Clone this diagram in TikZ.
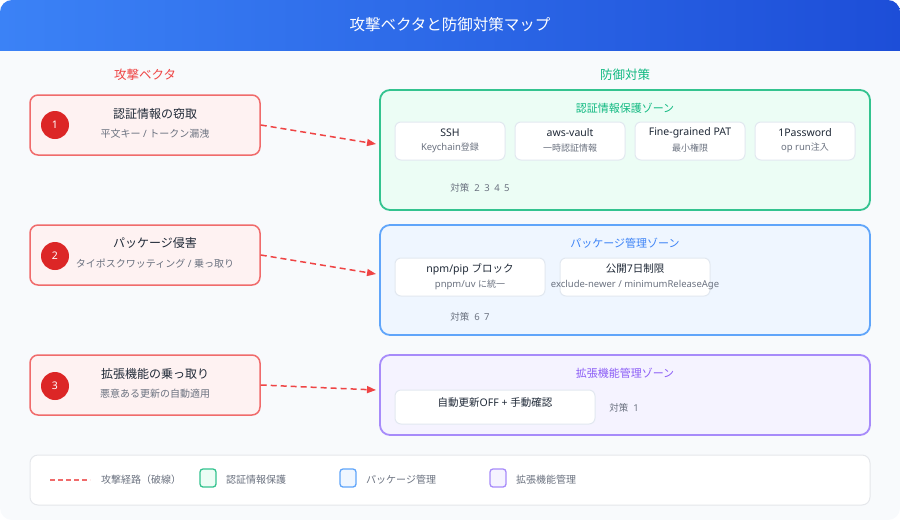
\documentclass[tikz,border=0pt]{standalone}
\usepackage{fontspec}
\setmainfont{Noto Sans CJK JP}
\newfontfamily\lat{Noto Sans}
\newcommand\latsub{\lat\fontsize{9.5}{11}\selectfont}
\usetikzlibrary{arrows.meta}
\definecolor{bgc}{HTML}{F8FAFC}
\definecolor{hdrL}{HTML}{3B82F6}
\definecolor{hdrR}{HTML}{1D4ED8}
\definecolor{atkred}{HTML}{EF4444}
\definecolor{atkstroke}{HTML}{F06B6B}
\definecolor{atkfill}{HTML}{FEF2F2}
\definecolor{numred}{HTML}{DC2626}
\definecolor{darktxt}{HTML}{1F2937}
\definecolor{subtxt}{HTML}{6B7280}
\definecolor{grnstroke}{HTML}{34C38F}
\definecolor{grnfill}{HTML}{ECFDF5}
\definecolor{grntxt}{HTML}{10B981}
\definecolor{blustroke}{HTML}{60A5FA}
\definecolor{blufill}{HTML}{EFF6FF}
\definecolor{blutxt}{HTML}{3B82F6}
\definecolor{purstroke}{HTML}{A78BFA}
\definecolor{purfill}{HTML}{F5F3FF}
\definecolor{purtxt}{HTML}{8B5CF6}
\definecolor{innerstroke}{HTML}{E2E8F0}
\definecolor{legstroke}{HTML}{E5E7EB}
\begin{document}
\begin{tikzpicture}[x=1pt,y=-1pt,
  txt/.style={inner sep=0pt, anchor=center},
  attackbox/.style={draw=atkstroke, fill=atkfill, line width=1.5pt, rounded corners=8pt, minimum width=230pt, minimum height=60pt, inner sep=0pt},
  numcircle/.style={circle, fill=numred, minimum size=28pt, inner sep=0pt, text=white, font=\lat\fontsize{10.5}{12}\selectfont},
  atktitle/.style={txt, text=darktxt, font=\fontsize{12}{14}\selectfont},
  atksub/.style={txt, text=subtxt, font=\fontsize{10}{12}\selectfont},
  zonebox/.style={line width=1.8pt, rounded corners=10pt, minimum width=490pt, inner sep=0pt},
  zonetitle/.style={txt, font=\fontsize{11}{13}\selectfont},
  innerbox/.style={draw=innerstroke, fill=white, line width=1pt, rounded corners=6pt, inner sep=0pt},
  inmain/.style={txt, text=darktxt, font=\fontsize{10.5}{12}\selectfont},
  insub/.style={txt, text=subtxt, font=\fontsize{9}{11}\selectfont},
  measure/.style={txt, text=subtxt, font=\fontsize{9.5}{11}\selectfont},
  attackline/.style={draw=atkred, line width=1.5pt, dash pattern=on 6pt off 4pt, -{Triangle[length=9pt,width=7pt]}},
  swatch/.style={line width=1.3pt, rounded corners=3pt, minimum width=16pt, minimum height=18pt, inner sep=0pt},
  legtxt/.style={inner sep=0pt, anchor=west, text=subtxt, font=\fontsize{10}{12}\selectfont}
]
\useasboundingbox (0,0) rectangle (900,520);
\begin{scope}
  \clip[rounded corners=12pt] (0,0) rectangle (900,520);
  \fill[bgc] (0,0) rectangle (900,520);
  \shade[left color=hdrL, right color=hdrR] (0,0) rectangle (900,50);
\end{scope}
\node[txt, text=white, font=\fontsize{15.5}{18}\selectfont] (title) at (450,25) {攻撃ベクタと防御対策マップ};

\node[txt, text=atkred, font=\fontsize{12.5}{15}\selectfont] (hatk) at (145,75) {攻撃ベクタ};
\node[txt, text=grntxt, font=\fontsize{12.5}{15}\selectfont] (hdef) at (625,75) {防御対策};

% attack boxes
\node[attackbox] (a1) at (145,125) {};
\node[numcircle] (n1) at (55,125) {1};
\node[atktitle] (a1t) at (155,114) {認証情報の窃取};
\node[atksub] (a1s) at (155,134) {平文キー{\lat\ /\ }トークン漏洩};

\node[attackbox] (a2) at (145,255) {};
\node[numcircle] (n2) at (55,256) {2};
\node[atktitle] (a2t) at (155,243) {パッケージ侵害};
\node[atksub] (a2s) at (155,264) {タイポスクワッティング{\lat\ /\ }乗っ取り};

\node[attackbox] (a3) at (145,385) {};
\node[numcircle] (n3) at (55,386) {3};
\node[atktitle] (a3t) at (155,374) {拡張機能の乗っ取り};
\node[atksub] (a3s) at (155,394) {悪意ある更新の自動適用};

% zone 1
\node[zonebox, draw=grnstroke, fill=grnfill, minimum height=120pt] (z1) at (625,150) {};
\node[zonetitle, text=grntxt] (z1t) at (625,108) {認証情報保護ゾーン};
\node[innerbox, minimum width=110pt, minimum height=38pt] (b11) at (450,141) {};
\node[inmain] (b11m) at (450,133) {\lat SSH};
\node[insub] (b11s) at (450,148) {{\latsub Keychain}登録};
\node[innerbox, minimum width=110pt, minimum height=38pt] (b12) at (570,141) {};
\node[inmain] (b12m) at (570,133) {\lat aws-vault};
\node[insub] (b12s) at (570,148) {一時認証情報};
\node[innerbox, minimum width=110pt, minimum height=38pt] (b13) at (690,141) {};
\node[inmain] (b13m) at (690,133) {\lat Fine-grained PAT};
\node[insub] (b13s) at (690,148) {最小権限};
\node[innerbox, minimum width=100pt, minimum height=38pt] (b14) at (805,141) {};
\node[inmain] (b14m) at (805,133) {\lat 1Password};
\node[insub] (b14s) at (805,148) {{\latsub op run}注入};
\node[measure] (m1) at (480,188) {対策{\lat\hspace{5pt}2\hspace{4.5pt}3\hspace{4.5pt}4\hspace{4.5pt}5}};

% zone 2
\node[zonebox, draw=blustroke, fill=blufill, minimum height=110pt] (z2) at (625,280) {};
\node[zonetitle, text=blutxt] (z2t) at (625,243) {パッケージ管理ゾーン};
\node[innerbox, minimum width=150pt, minimum height=38pt] (b21) at (470,277) {};
\node[inmain] (b21m) at (470,269) {{\lat npm/pip\ }ブロック};
\node[insub] (b21s) at (470,285) {{\latsub pnpm/uv\ }に統一};
\node[innerbox, minimum width=150pt, minimum height=38pt] (b22) at (635,277) {};
\node[inmain] (b22m) at (635,269) {公開{\lat 7}日制限};
\node[insub] (b22s) at (635,285) {\latsub exclude-newer / minimumReleaseAge};
\node[measure] (m2) at (470,317) {対策{\lat\hspace{5pt}6\hspace{4.5pt}7}};

% zone 3
\node[zonebox, draw=purstroke, fill=purfill, minimum height=80pt] (z3) at (625,395) {};
\node[zonetitle, text=purtxt] (z3t) at (625,373) {拡張機能管理ゾーン};
\node[innerbox, minimum width=200pt, minimum height=34pt] (b31) at (495,407) {};
\node[inmain] (b31m) at (495,403) {自動更新{\lat OFF + }手動確認};
\node[measure] (m3) at (624,408) {対策{\lat\hspace{5pt}1}};

% attack arrows
\coordinate (t1) at (376,144);
\coordinate (t2) at (376,274);
\coordinate (t3) at (376,390);
\draw[attackline] (a1.east) -- (t1);
\draw[attackline] (a2.east) -- (t2);
\draw[attackline] (a3.east) -- (t3);

% legend
\node[draw=legstroke, fill=white, line width=1pt, rounded corners=8pt, minimum width=840pt, minimum height=50pt, inner sep=0pt] (leg) at (450,480) {};
\coordinate (ls) at (50,480);
\coordinate (le) at (90,480);
\draw[draw=atkstroke, line width=1.5pt, dash pattern=on 5pt off 3pt] (ls) -- (le);
\node[legtxt] (l1) at (101,480) {攻撃経路（破線）};
\node[swatch, draw=grnstroke, fill=grnfill] (s1) at (208,478) {};
\node[legtxt] (l2) at (226,480) {認証情報保護};
\node[swatch, draw=blustroke, fill=blufill] (s2) at (348,478) {};
\node[legtxt] (l3) at (366,480) {パッケージ管理};
\node[swatch, draw=purstroke, fill=purfill] (s3) at (498,478) {};
\node[legtxt] (l4) at (516,480) {拡張機能管理};
\end{tikzpicture}
\end{document}
